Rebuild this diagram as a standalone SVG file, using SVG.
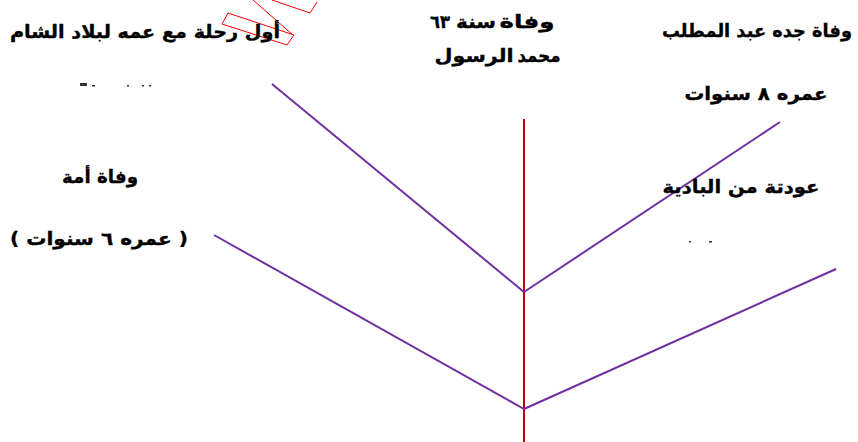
<svg xmlns="http://www.w3.org/2000/svg" width="858" height="442" viewBox="0 0 858 442">
<style>
.t{font-family:"DejaVu Sans","Noto Sans",sans-serif;font-weight:bold;font-size:18px;fill:#000;stroke:#000;stroke-width:0.35;direction:rtl;unicode-bidi:embed}
.p{stroke:#7030A0;stroke-width:2;fill:none}
.r{stroke:#C80000;stroke-width:2;fill:none}
.w{stroke:#FF0000;stroke-width:1;fill:none}
.d{fill:#333}
</style>
<rect width="858" height="442" fill="#fff"/>
<g id="connectors">
<line class="r" x1="524" y1="119" x2="524" y2="442"/>
<line class="p" x1="272" y1="84" x2="524" y2="292"/>
<line class="p" x1="524" y1="292" x2="780" y2="122"/>
<line class="p" x1="214" y1="235" x2="524" y2="409"/>
<line class="p" x1="524" y1="409" x2="836" y2="269"/>
</g>
<g id="watermark">
<polygon class="w" points="222,24 228,13 294,35 287,45"/>
<polyline class="w" points="253,0 293,35"/>
<polyline class="w" points="272,0 310,13 317,2"/>
</g>
<g id="node-trip">
<text class="t" x="145" y="38" text-anchor="middle" textLength="270" lengthAdjust="spacingAndGlyphs">أول رحلة مع عمه لبلاد الشام</text>
<rect class="d" x="80" y="83" width="7" height="3"/>
<rect class="d" x="92" y="85" width="3" height="1.5"/>
<rect class="d" x="127" y="85" width="2" height="1.5"/>
<rect class="d" x="142" y="85" width="2" height="1.5"/>
<rect class="d" x="149" y="85" width="2" height="1.5"/>
</g>
<g id="node-prophet">
<text class="t" x="440" y="28" text-anchor="middle" textLength="20" lengthAdjust="spacingAndGlyphs">٦٣</text>
<text class="t" x="476" y="28" text-anchor="middle" textLength="40" lengthAdjust="spacingAndGlyphs">سنة</text>
<text class="t" x="527" y="28" text-anchor="middle" textLength="55" lengthAdjust="spacingAndGlyphs">وفاة</text>
<text class="t" x="474" y="62" text-anchor="middle" textLength="79" lengthAdjust="spacingAndGlyphs">الرسول</text>
<text class="t" x="539" y="62" text-anchor="middle" textLength="43" lengthAdjust="spacingAndGlyphs">محمد</text>
</g>
<g id="node-grandfather">
<text class="t" x="757" y="37" text-anchor="middle" textLength="190" lengthAdjust="spacingAndGlyphs">وفاة جده عبد المطلب</text>
<text class="t" x="756" y="100" text-anchor="middle" textLength="143" lengthAdjust="spacingAndGlyphs">عمره ٨ سنوات</text>
</g>
<g id="node-mother">
<text class="t" x="100" y="183" text-anchor="middle" textLength="76" lengthAdjust="spacingAndGlyphs">وفاة أمة</text>
<text class="t" x="99" y="245" text-anchor="middle" textLength="178" lengthAdjust="spacingAndGlyphs">( عمره ٦ سنوات )</text>
</g>
<g id="node-desert">
<text class="t" x="741" y="193" text-anchor="middle" textLength="157" lengthAdjust="spacingAndGlyphs">عودتة من البادية</text>
<rect class="d" x="689" y="241" width="2" height="1.5"/>
<rect class="d" x="709" y="241" width="3" height="1.5"/>
</g>
</svg>
